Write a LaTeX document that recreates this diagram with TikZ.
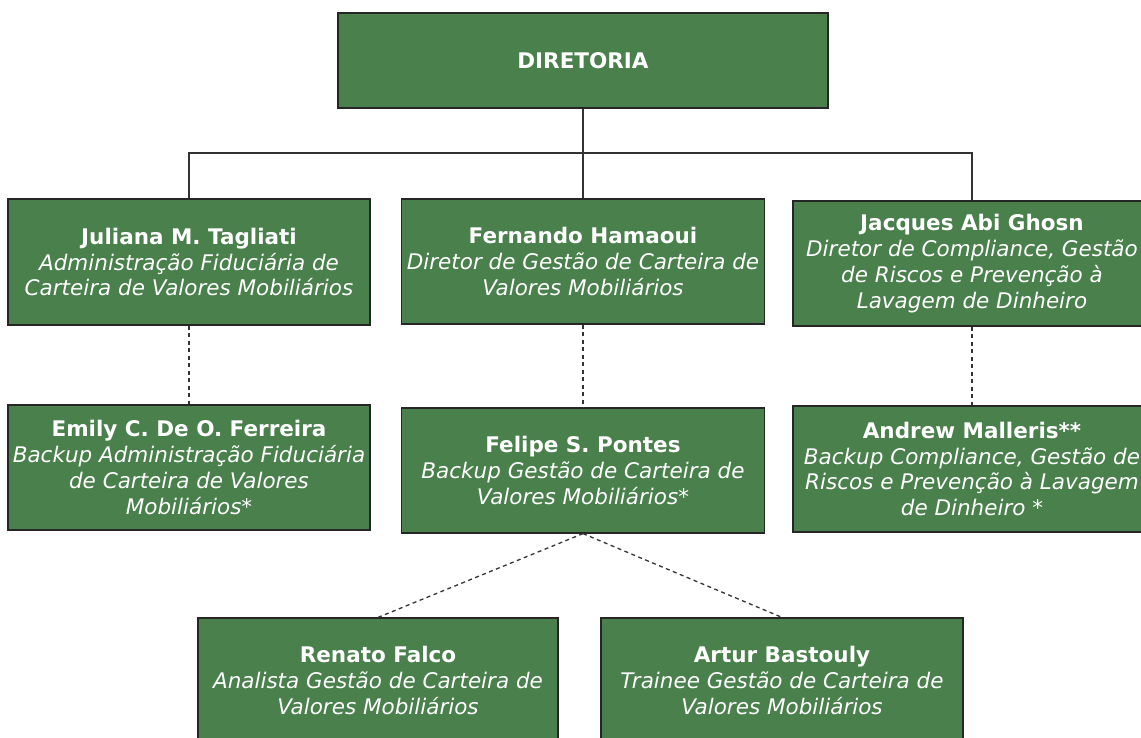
\documentclass[tikz,border=0pt]{standalone}
\usepackage{fontspec}
\setmainfont{DejaVu Sans}
\definecolor{boxgreen}{RGB}{73,128,76}
\begin{document}
\begin{tikzpicture}[x=1pt,y=-1pt,
  box/.style={draw=black!85, line width=1.2pt, fill=boxgreen, text=white,
    align=center, inner sep=0pt, rectangle,
    font=\fontsize{21.5}{25.8}\selectfont},
  solidline/.style={draw=black!80, line width=1.4pt},
  dashline/.style={draw=black!80, line width=1.3pt, dash pattern=on 4pt off 3.5pt}]
\useasboundingbox (0,0) rectangle (1141,738);
\clip (0,0) rectangle (1141,738);
\fill[white] (0,0) rectangle (1141,738);

\node[box, minimum width=490, minimum height=95] (dir) at (583,60.5) {\textbf{DIRETORIA}};

\node[box, minimum width=362, minimum height=126] (jul) at (189,262)
  {\textbf{Juliana M. Tagliati}\\\textit{Administração Fiduciária de}\\\textit{Carteira de Valores Mobiliários}};
\node[box, minimum width=363, minimum height=125] (fer) at (583,261.5)
  {\textbf{Fernando Hamaoui}\\\textit{Diretor de Gestão de Carteira de}\\\textit{Valores Mobiliários}};
\node[box, minimum width=358, minimum height=125] (jac) at (972,263.5)
  {\textbf{Jacques Abi Ghosn}\\\textit{Diretor de Compliance, Gestão}\\\textit{de Riscos e Prevenção à}\\\textit{Lavagem de Dinheiro}};

\node[box, minimum width=362, minimum height=125] (emi) at (189,467.5)
  {\textbf{Emily C. De O. Ferreira}\\\textit{Backup Administração Fiduciária}\\\textit{de Carteira de Valores}\\\textit{Mobiliários*}};
\node[box, minimum width=363, minimum height=125] (fel) at (583,470.5)
  {\textbf{Felipe S. Pontes}\\\textit{Backup Gestão de Carteira de}\\\textit{Valores Mobiliários*}};
\node[box, minimum width=358, minimum height=126] (and) at (972,469)
  {\textbf{Andrew Malleris**}\\\textit{Backup Compliance, Gestão de}\\\textit{Riscos e Prevenção à Lavagem}\\\textit{de Dinheiro *}};

\node[box, minimum width=360, minimum height=125] (ren) at (378,680.5)
  {\textbf{Renato Falco}\\\textit{Analista Gestão de Carteira de}\\\textit{Valores Mobiliários}};
\node[box, minimum width=362, minimum height=125] (art) at (782,680.5)
  {\textbf{Artur Bastouly}\\\textit{Trainee Gestão de Carteira de}\\\textit{Valores Mobiliários}};

\coordinate (bus) at (583,153);
\draw[solidline] (dir.south) -- (fer.north);
\draw[solidline] (jul.north) |- (bus) -| (jac.north);

\draw[dashline] (jul.south) -- (emi.north);
\draw[dashline] (fer.south) -- (fel.north);
\draw[dashline] (jac.south) -- (and.north);
\draw[dashline] (fel.south) -- (ren.north);
\draw[dashline] (fel.south) -- (art.north);
\end{tikzpicture}
\end{document}
